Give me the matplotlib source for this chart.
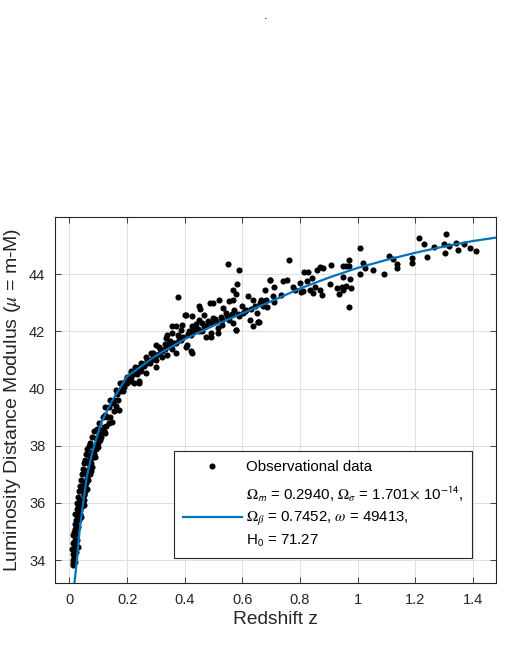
import numpy as np
import matplotlib
matplotlib.use("Agg")
import matplotlib.pyplot as plt
from matplotlib.lines import Line2D

plt.rcParams['font.family'] = ['Liberation Sans', 'DejaVu Sans']
plt.rcParams['mathtext.fontset'] = 'stix'

# observational data (redshift, distance modulus)
z_low = [0.014, 0.020, 0.012, 0.022, 0.017, 0.026, 0.014, 0.022, 0.031, 0.020,
         0.034, 0.026, 0.037, 0.029, 0.043, 0.037, 0.049, 0.043, 0.055, 0.049,
         0.060, 0.057, 0.066, 0.064, 0.072, 0.069, 0.078, 0.084, 0.095, 0.092,
         0.101, 0.107, 0.119, 0.136, 0.148, 0.052, 0.041, 0.031, 0.078, 0.090,
         0.107, 0.125, 0.016, 0.024, 0.028, 0.033, 0.039, 0.046, 0.052, 0.058,
         0.063, 0.070, 0.075, 0.082, 0.088, 0.098, 0.112, 0.130, 0.010, 0.018,
         0.011, 0.013, 0.015, 0.018, 0.013, 0.016, 0.019, 0.023, 0.021, 0.025,
         0.027, 0.030, 0.033, 0.036, 0.040, 0.044, 0.047, 0.050, 0.054, 0.058,
         0.062, 0.067, 0.073, 0.080, 0.086, 0.094, 0.104, 0.115, 0.038, 0.045,
         0.050, 0.055, 0.060, 0.065, 0.070, 0.076, 0.085, 0.093, 0.100, 0.110,
         0.120, 0.128, 0.140, 0.155, 0.160, 0.170]
mu_low = [33.82, 33.93, 34.22, 34.28, 34.58, 34.69, 34.87, 35.04, 35.16, 35.28,
          35.39, 35.57, 35.74, 35.92, 35.98, 36.09, 36.27, 36.45, 36.62, 36.74,
          36.86, 37.03, 37.15, 37.38, 37.50, 37.67, 37.79, 37.97, 38.08, 38.26,
          38.38, 38.55, 38.67, 38.79, 38.84, 35.92, 35.50, 34.46, 37.27, 37.62,
          38.20, 38.43, 34.10, 34.90, 35.20, 35.70, 36.00, 36.50, 36.30, 36.70,
          37.00, 37.30, 37.10, 37.60, 37.90, 37.95, 38.50, 39.00, 34.40, 34.50,
          33.90, 34.00, 34.30, 34.70, 34.60, 35.00, 35.10, 35.40, 35.60, 35.80,
          36.00, 36.20, 36.40, 36.60, 36.80, 37.00, 37.20, 37.40, 37.50, 37.70,
          37.90, 38.00, 38.10, 38.30, 38.50, 38.60, 38.80, 39.00, 35.60, 35.90,
          36.10, 36.40, 36.50, 36.80, 37.00, 37.40, 37.70, 37.90, 38.10, 38.30,
          38.50, 38.70, 39.00, 39.20, 39.40, 39.60]

z_mid = [0.549, 0.590, 0.375, 0.580, 0.578, 0.578, 0.555, 0.520, 0.488, 0.453,
         0.400, 0.625, 0.636, 0.654, 0.650, 0.613, 0.599, 0.572, 0.543, 0.497,
         0.468, 0.439, 0.421, 0.404, 0.421, 0.427, 0.451, 0.369, 0.386, 0.357,
         0.334, 0.311, 0.299, 0.282, 0.264, 0.247, 0.229, 0.212, 0.200, 0.212,
         0.177, 0.160, 0.142, 0.125, 0.223, 0.241, 0.264, 0.299, 0.340, 0.363,
         0.386, 0.474, 0.491, 0.514, 0.529, 0.555, 0.566, 0.590, 0.601, 0.671,
         0.683, 0.566, 0.619, 0.636, 0.695, 0.450, 0.497, 0.532, 0.566, 0.654,
         0.578, 0.514, 0.491, 0.468, 0.404, 0.427, 0.427, 0.409, 0.375, 0.357,
         0.392, 0.346, 0.299, 0.282, 0.270, 0.241, 0.212, 0.183, 0.241, 0.154,
         0.136, 0.171, 0.125, 0.322, 0.369, 0.340, 0.450, 0.190, 0.205, 0.230,
         0.255, 0.275, 0.290, 0.315, 0.330, 0.350, 0.380, 0.415, 0.440, 0.460,
         0.480, 0.505, 0.525, 0.545, 0.165, 0.150, 0.185, 0.195, 0.215, 0.235,
         0.175, 0.180, 0.190, 0.200, 0.210, 0.220, 0.225, 0.235, 0.245, 0.250,
         0.260, 0.270, 0.280, 0.290, 0.300, 0.310, 0.320, 0.330, 0.345, 0.355,
         0.370, 0.380, 0.395, 0.410, 0.430, 0.445, 0.460, 0.475, 0.490, 0.510,
         0.530, 0.550, 0.565, 0.585, 0.610, 0.630, 0.645, 0.660]
mu_mid = [44.36, 44.16, 43.19, 43.67, 43.32, 42.06, 43.05, 43.11, 43.00, 42.80,
          42.59, 42.41, 42.20, 42.32, 42.65, 42.76, 42.90, 42.76, 42.65, 42.47,
          42.18, 42.12, 41.88, 41.47, 41.30, 42.53, 42.41, 42.18, 42.06, 41.94,
          41.77, 41.47, 41.18, 41.00, 41.12, 40.89, 40.77, 40.60, 40.42, 40.25,
          40.19, 39.95, 39.60, 39.37, 40.19, 40.25, 40.54, 40.77, 41.18, 41.59,
          41.71, 41.82, 41.94, 42.12, 42.24, 42.41, 42.30, 42.53, 42.65, 42.88,
          43.11, 43.46, 43.23, 43.11, 43.81, 42.88, 43.00, 42.82, 43.11, 42.32,
          42.06, 41.94, 41.82, 42.59, 42.59, 42.18, 41.24, 41.53, 41.88, 42.18,
          42.24, 41.59, 41.53, 41.24, 40.89, 40.77, 40.56, 40.19, 40.19, 39.60,
          39.37, 39.25, 39.08, 41.12, 41.24, 41.88, 42.00, 40.05, 40.35, 40.60,
          40.85, 40.95, 41.25, 41.40, 41.55, 41.65, 41.80, 42.00, 42.25, 42.30,
          42.35, 42.45, 42.50, 42.55, 39.80, 39.50, 39.90, 40.30, 40.40, 40.70,
          39.90, 40.00, 40.20, 40.20, 40.40, 40.50, 40.60, 40.50, 40.70, 40.60,
          40.80, 41.00, 40.90, 41.10, 41.00, 41.20, 41.30, 41.40, 41.50, 41.40,
          41.60, 41.70, 41.80, 41.90, 42.00, 42.10, 42.00, 42.20, 42.30, 42.35,
          42.40, 42.50, 42.60, 42.60, 42.70, 42.80, 42.90, 43.00]

z_high = [1.212, 1.305, 1.229, 1.264, 1.300, 1.317, 1.340, 1.369, 1.348, 1.303,
          1.389, 1.412, 1.240, 1.189, 1.189, 1.137, 1.137, 1.109, 1.123, 1.090,
          1.055, 1.009, 1.018, 1.009, 1.024, 0.969, 0.960, 0.950, 0.971, 0.909,
          0.969, 0.974, 0.976, 0.960, 0.944, 0.934, 0.948, 0.929, 0.948, 0.904,
          0.875, 0.869, 0.852, 0.762, 0.813, 0.828, 0.869, 0.881, 0.858, 0.840,
          0.823, 0.800, 0.776, 0.811, 0.834, 0.805, 0.845, 0.782, 0.755, 0.741,
          0.711, 0.697, 0.677, 0.733, 0.709, 0.685, 0.671, 0.666, 0.706, 0.659]
mu_high = [45.25, 45.42, 45.04, 44.96, 45.04, 44.98, 45.10, 45.07, 44.84, 44.75,
           44.90, 44.80, 44.60, 44.57, 44.40, 44.34, 44.20, 44.63, 44.54, 44.02,
           44.16, 44.93, 44.38, 44.02, 44.22, 44.48, 44.28, 44.28, 44.28, 44.32,
           42.84, 43.84, 43.52, 43.60, 43.56, 43.32, 43.44, 43.52, 43.90, 43.64,
           43.29, 43.46, 43.56, 44.48, 44.08, 44.07, 44.26, 44.22, 44.16, 43.87,
           43.75, 43.70, 43.56, 43.40, 43.46, 43.37, 43.35, 43.46, 43.81, 43.75,
           43.56, 43.78, 43.46, 43.29, 43.02, 42.86, 42.97, 43.11, 43.23, 42.32]

# fitted model curve
z_fit = [0.0175, 0.026, 0.035, 0.045, 0.060, 0.080, 0.110, 0.150, 0.200, 0.300,
         0.400, 0.500, 0.600, 0.700, 0.800, 0.900, 1.000, 1.100, 1.200, 1.300,
         1.400, 1.480]
mu_fit = [33.2, 34.0, 35.0, 35.8, 36.9, 37.8, 38.8, 39.6, 40.42, 41.15,
          41.73, 42.2, 42.63, 43.05, 43.5, 43.88, 44.22, 44.5, 44.75, 44.97,
          45.16, 45.28]

xticks = [0, 0.2, 0.4, 0.6, 0.8, 1.0, 1.2, 1.4]
xtick_labels = ['0', '0.2', '0.4', '0.6', '0.8', '1', '1.2', '1.4']
yticks = [34, 36, 38, 40, 42, 44]

z_obs = z_low + z_mid + z_high
mu_obs = mu_low + mu_mid + mu_high

fig = plt.figure(figsize=(5.29, 6.69), dpi=100)
ax = fig.add_axes([0.104, 0.1286, 0.8336, 0.547])

ax.plot(z_obs, mu_obs, 'o', color='k', markersize=4.4, markeredgewidth=0,
        linestyle='none', zorder=3)
ax.plot(z_fit, mu_fit, '-', color=(0, 0.447, 0.741), linewidth=1.6, zorder=4)

ax.set_xlim(-0.05, 1.48)
ax.set_ylim(33.2, 46.0)
ax.set_xticks(xticks)
ax.set_xticklabels(xtick_labels)
ax.set_yticks(yticks)

axcol = (0.15, 0.15, 0.15)
for s in ax.spines.values():
    s.set_color(axcol)
    s.set_linewidth(0.8)
ax.tick_params(direction='in', top=True, right=True, length=4, width=0.6,
               colors=axcol, labelsize=10.5, pad=7)
ax.grid(True, color=(0.88, 0.88, 0.88), linewidth=0.8)
ax.set_axisbelow(True)

ax.set_xlabel('Redshift z', fontsize=13.8, color=axcol, labelpad=3)
ax.set_ylabel(r'Luminosity Distance Modulus ($\mu$ = m-M)', fontsize=14,
              color=axcol, labelpad=4)

fit_label = (r'$\Omega_{\mathsf{m}}$ = 0.2940, $\Omega_\sigma$ = 1.701$\times$ 10$^{\mathsf{-14}}$,' + '\n'
             r'$\Omega_\beta$ = 0.7452, $\omega$ = 49413,' + '\n'
             r'H$_{\mathsf{0}}$ = 71.27')
h_obs = Line2D([], [], marker='o', color='k', markersize=4.4, markeredgewidth=0,
               linestyle='none')
h_fit = Line2D([], [], color=(0, 0.447, 0.741), linewidth=1.6)
leg = ax.legend([h_obs, h_fit], ['Observational data', fit_label],
                loc='lower right', bbox_to_anchor=(0.946, 0.068), fontsize=10.8,
                frameon=True, fancybox=False, edgecolor=axcol, framealpha=1,
                handlelength=3.9, handletextpad=0.3, borderpad=0.6,
                labelspacing=0.72, borderaxespad=0)
leg.get_frame().set_linewidth(0.8)
leg.get_texts()[1].set_linespacing(1.45)

fig.text(0.502, 1 - 21.7 / 669, '.', ha='center', va='bottom', fontsize=9)

fig.savefig('out.png', dpi=100)
